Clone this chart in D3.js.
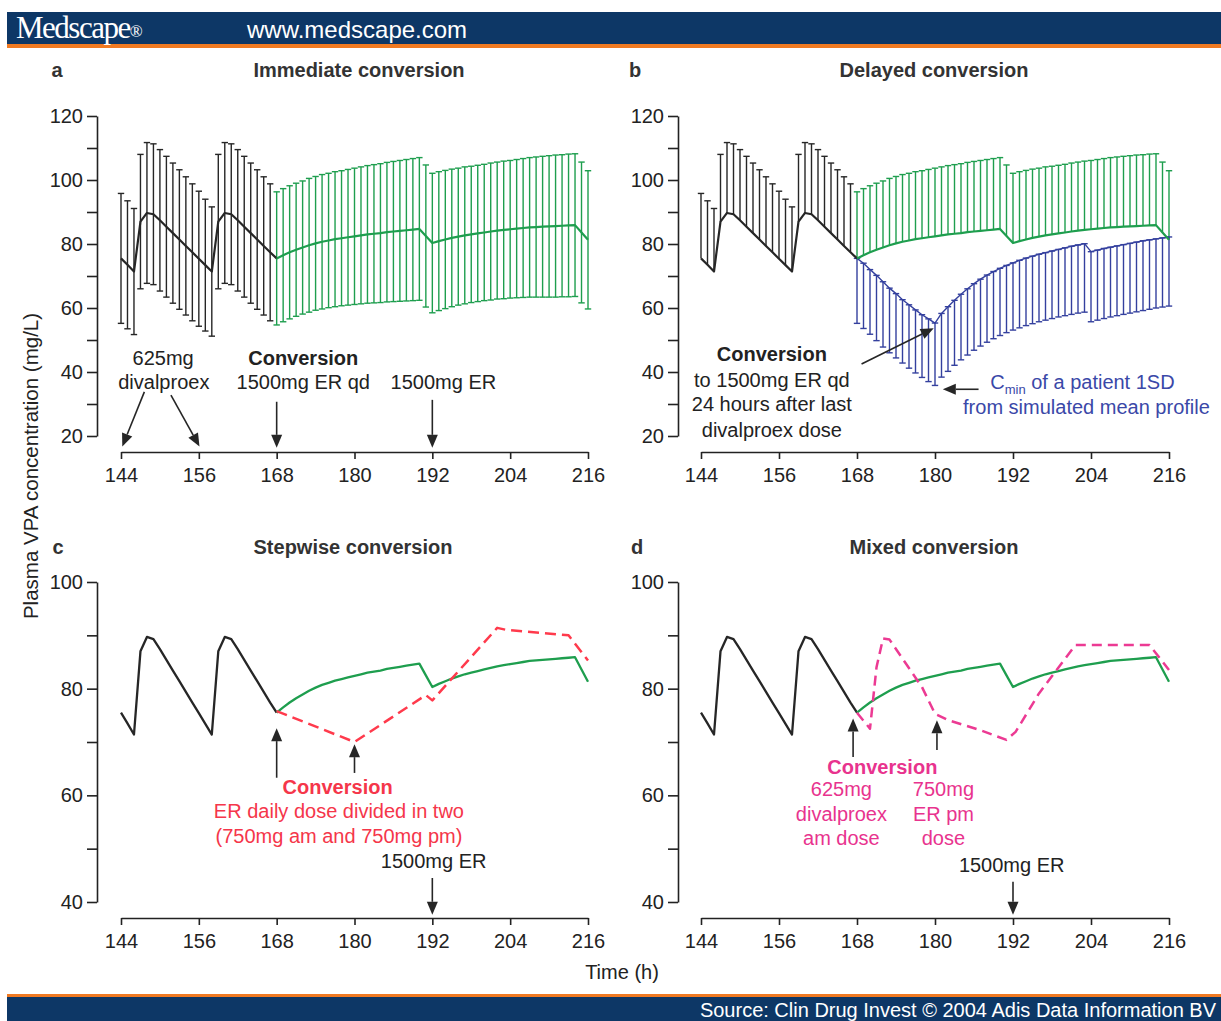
<!DOCTYPE html>
<html><head><meta charset="utf-8">
<script src="https://cdn.jsdelivr.net/npm/d3@7"></script>
<style>
html,body{margin:0;padding:0;background:#fff;}
svg{display:block;}
text{font-family:"Liberation Sans",Arial,sans-serif;}
</style></head>
<body>
<svg id="chart" width="1221" height="1021"></svg>
<script>
// ---------------- DATA ----------------
const hoursDivalproex = [144,145,146,147,148,149,150,151,152,153,154,155,156,157,158,159,160,161,162,163,164,165,166,167,168];
const meanDivalproex = [75.5,73.5,71.4,87.0,89.7,89.3,87.4,85.4,83.4,81.4,79.4,77.4,75.4,73.4,71.4,87.0,89.7,89.3,87.4,85.4,83.4,81.4,79.4,77.4,75.5];
const sdDivalproex = [20.3,20.0,19.7,21.0,22.0,22.0,22.1,22.0,21.9,21.8,21.6,21.4,21.1,20.6,20.2,21.0,22.0,22.0,22.1,22.0,21.9,21.8,21.6,21.4,21.1];

const hoursER = [168,169,170,171,172,173,174,175,176,177,178,179,180,181,182,183,184,185,186,187,188,189,190,191,192,193,194,195,196,197,198,199,200,201,202,203,204,205,206,207,208,209,210,211,212,213,214,215,216];
const meanER = [75.5,76.5,77.4,78.2,78.9,79.6,80.2,80.7,81.1,81.5,81.8,82.1,82.4,82.7,83.0,83.2,83.4,83.7,83.9,84.1,84.3,84.5,84.7,82.5,80.3,80.9,81.4,81.9,82.3,82.7,83.0,83.3,83.6,83.9,84.2,84.4,84.6,84.8,85.0,85.2,85.3,85.4,85.5,85.6,85.7,85.8,85.9,83.6,81.3];
const sdER = [20.8,20.8,20.8,20.8,20.8,20.9,20.9,21.0,21.0,21.1,21.1,21.2,21.3,21.4,21.5,21.6,21.7,21.8,21.9,22.0,22.1,22.2,22.3,22.2,21.8,21.7,21.6,21.5,21.4,21.4,21.3,21.3,21.3,21.4,21.4,21.5,21.5,21.6,21.7,21.8,21.9,22.0,22.1,22.2,22.2,22.3,22.3,22.0,21.6];

// delayed conversion (panel b): simulated mean after delayed switch, and Cmin of a patient 1SD below
const meanDelayed = [75.5,74.0,72.0,70.2,68.2,66.2,64.5,62.6,61.0,59.4,57.9,56.6,55.3,58.3,60.4,62.4,64.3,66.0,67.6,69.0,70.3,71.4,72.4,73.3,74.1,74.9,75.6,76.2,76.8,77.3,77.8,78.3,78.8,79.3,79.7,80.1,77.6,78.1,78.6,79.0,79.4,79.8,80.2,80.6,81.0,81.3,81.6,81.9,82.2];
const lowDelayed = [55.2,53.6,51.8,49.8,47.8,46.0,44.4,42.8,41.2,39.7,38.3,37.0,35.8,38.4,40.2,42.1,43.8,45.3,46.8,48.1,49.3,50.4,51.4,52.3,53.1,53.8,54.5,55.1,55.7,56.2,56.7,57.2,57.6,58.0,58.4,58.7,55.7,56.2,56.7,57.2,57.6,58.0,58.4,58.8,59.2,59.6,60.0,60.3,60.6];

// stepwise conversion (panel c, red dashed)
const stepwiseHours = [168,180,191,192,202,203.5,213,216];
const stepwiseValues = [75.8,70.0,78.8,77.8,91.4,91.0,90.0,85.3];

// mixed conversion (panel d, pink dashed)
const mixedHours = [168,170,171,172,173,178,180,182,187,191,192.4,196,201.6,213,216];
const mixedValues = [75.5,72.5,84.0,89.4,89.2,80.3,75.3,74.1,72.2,70.4,71.9,79.1,88.2,88.2,83.5];

const xTicks = [144,156,168,180,192,204,216];
const yTicksTop = [20,40,60,80,100,120];
const yMinorTop = [30,50,70,90,110];
const yTicksBottom = [40,60,80,100];
const yMinorBottom = [50,70,90];

// ---------------- STYLE ----------------
const C = {
  black:"#262626", green:"#1e9e4e", blue:"#34409e", red:"#ff3a4c", pink:"#ec3a93",
  redText:"#f5364a", pinkText:"#e8338e", blueText:"#3a48a8", axis:"#222",
  navy:"#0d3766", orange:"#f07a22", text:"#222", title:"#333"
};
const FS = 20;

const svg = d3.select("#chart");

// header & footer
svg.append("rect").attr("x",7).attr("y",12).attr("width",1214).attr("height",33).attr("fill",C.navy);
svg.append("rect").attr("x",7).attr("y",44).attr("width",1214).attr("height",4).attr("fill",C.orange);
const ms = svg.append("text").attr("x",16).attr("y",38).attr("fill","#fff")
  .style("font-family","'Liberation Serif','Times New Roman',serif").style("font-size","31px").attr("letter-spacing","-1.5");
ms.append("tspan").text("Medscape");
ms.append("tspan").text("®").style("font-size","17px").attr("dy","-1").attr("letter-spacing","0");
svg.append("text").attr("x",247).attr("y",38).attr("fill","#fff").style("font-size","24px").text("www.medscape.com");

svg.append("rect").attr("x",7).attr("y",994).attr("width",1214).attr("height",4).attr("fill",C.orange);
svg.append("rect").attr("x",7).attr("y",997).attr("width",1214).attr("height",24).attr("fill",C.navy);
svg.append("text").attr("x",1216).attr("y",1017).attr("text-anchor","end").attr("fill","#fff").style("font-size","20px")
  .text("Source: Clin Drug Invest © 2004 Adis Data Information BV");

// axis titles
svg.append("text").attr("transform","translate(31,466) rotate(-90)").attr("text-anchor","middle").attr("dy","0.35em")
  .attr("fill",C.text).style("font-size","20.5px").text("Plasma VPA concentration (mg/L)");
svg.append("text").attr("x",622).attr("y",972).attr("text-anchor","middle").attr("dy","0.35em")
  .attr("fill",C.text).style("font-size","20px").text("Time (h)");

// ---------------- PANELS ----------------
const panelCfg = [
  {letter:"a", title:"Immediate conversion", xr:[121,588], yr:[436,116], dom:[20,120], ax:97, ay:452, lx:57, tx:359, ty:70, ticks:yTicksTop, minor:yMinorTop},
  {letter:"b", title:"Delayed conversion",   xr:[701,1169], yr:[436,116], dom:[20,120], ax:678, ay:452, lx:635, tx:934, ty:70, ticks:yTicksTop, minor:yMinorTop},
  {letter:"c", title:"Stepwise conversion",  xr:[121,588], yr:[902,582], dom:[40,100], ax:97, ay:918, lx:58, tx:353, ty:547, ticks:yTicksBottom, minor:yMinorBottom},
  {letter:"d", title:"Mixed conversion",     xr:[701,1169], yr:[902,582], dom:[40,100], ax:678, ay:918, lx:637, tx:934, ty:547, ticks:yTicksBottom, minor:yMinorBottom}
];

function makePanel(cfg){
  const x = d3.scaleLinear().domain([144,216]).range(cfg.xr);
  const y = d3.scaleLinear().domain(cfg.dom).range(cfg.yr);
  const g = svg.append("g");
  g.append("text").attr("x",cfg.lx).attr("y",cfg.ty).attr("dy","0.35em").attr("text-anchor","middle")
    .attr("fill",C.title).style("font-size","20px").style("font-weight","bold").text(cfg.letter);
  g.append("text").attr("x",cfg.tx).attr("y",cfg.ty).attr("dy","0.35em").attr("text-anchor","middle")
    .attr("fill",C.title).style("font-size","20px").style("font-weight","bold").text(cfg.title);
  // y axis
  const yAxis = d3.axisLeft(y).tickValues(cfg.ticks).tickSize(10).tickPadding(4).tickSizeOuter(0);
  const ya = g.append("g").attr("transform",`translate(${cfg.ax},0)`).call(yAxis);
  const yMin = d3.axisLeft(y).tickValues(cfg.minor).tickSize(10).tickFormat("").tickSizeOuter(0);
  const ym = g.append("g").attr("transform",`translate(${cfg.ax},0)`).call(yMin);
  ym.select(".domain").remove();
  // x axis
  const xAxis = d3.axisBottom(x).tickValues(xTicks).tickSize(7).tickPadding(9).tickSizeOuter(0);
  const xa = g.append("g").attr("transform",`translate(0,${cfg.ay})`).call(xAxis);
  [ya,ym,xa].forEach(a=>{
    a.selectAll("path,line").attr("stroke",C.axis).attr("stroke-width",1.6);
    a.selectAll("text").attr("fill",C.text).style("font-size",FS+"px").style("font-family","'Liberation Sans',Arial,sans-serif");
  });
  return {x,y,g};
}

const P = panelCfg.map(makePanel);

const line = (x,y)=>d3.line().x(d=>x(d[0])).y(d=>y(d[1]));
const zip = (a,b)=>a.map((v,i)=>[v,b[i]]);
const capW = 3.2;

function bars(g,x,y,hours,top,low,color,capTop,capLow){
  const bg = g.append("g").attr("stroke",color).attr("stroke-width",1.4).attr("fill","none");
  hours.forEach((h,i)=>{
    const xx = x(h);
    bg.append("line").attr("x1",xx).attr("x2",xx).attr("y1",y(top[i])).attr("y2",y(low[i]));
    if(capTop) bg.append("line").attr("x1",xx-capW).attr("x2",xx+capW).attr("y1",y(top[i])).attr("y2",y(top[i]));
    if(capLow) bg.append("line").attr("x1",xx-capW).attr("x2",xx+capW).attr("y1",y(low[i])).attr("y2",y(low[i]));
  });
}
function meanLine(g,x,y,hours,vals,color,w,dash){
  const p = g.append("path").datum(zip(hours,vals)).attr("d",line(x,y)).attr("fill","none")
    .attr("stroke",color).attr("stroke-width",w).attr("stroke-linejoin","round");
  if(dash) p.attr("stroke-dasharray",dash);
}
function arrow(g,x,y,t1,v1,t2,v2,color){
  const x1=x(t1),y1=y(v1),x2=x(t2),y2=y(v2);
  const ang=Math.atan2(y2-y1,x2-x1), L=13, W=5.5;
  const bx=x2-L*Math.cos(ang), by=y2-L*Math.sin(ang);
  g.append("line").attr("x1",x1).attr("y1",y1).attr("x2",bx).attr("y2",by).attr("stroke",color).attr("stroke-width",1.6);
  const px=-Math.sin(ang)*W, py=Math.cos(ang)*W;
  g.append("path").attr("d",`M${x2},${y2}L${bx+px},${by+py}L${bx-px},${by-py}Z`).attr("fill",color);
}
function label(g,x,y,t,v,txt,color,opts={}){
  const el = g.append("text").attr("x",x(t)).attr("y",y(v)).attr("dy","0.35em")
    .attr("text-anchor",opts.anchor||"middle").attr("fill",color).style("font-size",(opts.size||FS)+"px");
  if(opts.bold) el.style("font-weight","bold");
  el.text(txt);
  return el;
}

const hBlackBars = hoursDivalproex.slice(0,24);
const mBlackBars = meanDivalproex.slice(0,24);
const sBlackBars = sdDivalproex.slice(0,24);

// ----- panel a -----
{
  const {x,y,g}=P[0];
  bars(g,x,y,hBlackBars,mBlackBars.map((m,i)=>m+sBlackBars[i]),mBlackBars.map((m,i)=>m-sBlackBars[i]),C.black,true,true);
  bars(g,x,y,hoursER,meanER.map((m,i)=>m+sdER[i]),meanER.map((m,i)=>m-sdER[i]),C.green,true,true);
  meanLine(g,x,y,hoursDivalproex,meanDivalproex,C.black,2.2);
  meanLine(g,x,y,hoursER,meanER,C.green,2.2);
  label(g,x,y,150.5,44.4,"625mg",C.text);
  label(g,x,y,150.6,36.9,"divalproex",C.text);
  label(g,x,y,172.1,44.4,"Conversion",C.text,{bold:true});
  label(g,x,y,172.1,36.9,"1500mg ER qd",C.text);
  label(g,x,y,193.7,36.9,"1500mg ER",C.text);
  arrow(g,x,y,147.6,33.8,144.2,16.7,C.black);
  arrow(g,x,y,151.7,32.8,156.1,16.7,C.black);
  arrow(g,x,y,168,30.7,168,16.3,C.black);
  arrow(g,x,y,192,31.3,192,16.3,C.black);
}
// ----- panel b -----
{
  const {x,y,g}=P[1];
  bars(g,x,y,hBlackBars,mBlackBars.map((m,i)=>m+sBlackBars[i]),mBlackBars,C.black,true,false);
  bars(g,x,y,hoursER,meanER.map((m,i)=>m+sdER[i]),meanER,C.green,true,false);
  bars(g,x,y,hoursER,meanDelayed,lowDelayed,C.blue,true,true);
  meanLine(g,x,y,hoursER,meanDelayed,C.blue,1.4);
  meanLine(g,x,y,hoursDivalproex,meanDivalproex,C.black,2.2);
  meanLine(g,x,y,hoursER,meanER,C.green,2.2);
  label(g,x,y,154.9,45.6,"Conversion",C.text,{bold:true});
  label(g,x,y,154.9,37.5,"to 1500mg ER qd",C.text);
  label(g,x,y,154.9,30.0,"24 hours after last",C.text);
  label(g,x,y,154.9,21.9,"divalproex dose",C.text);
  arrow(g,x,y,168.7,42.5,179.8,53.7,C.black);
  arrow(g,x,y,186.7,34.6,181.2,34.6,C.black);
  const t = label(g,x,y,188.5,36.9,"",C.blueText,{anchor:"start"});
  t.append("tspan").text("C");
  t.append("tspan").text("min").style("font-size","13px").attr("dy","5");
  t.append("tspan").text(" of a patient 1SD").attr("dy","-5");
  label(g,x,y,203.3,29.1,"from simulated mean profile",C.blueText);
}
// ----- panel c -----
{
  const {x,y,g}=P[2];
  meanLine(g,x,y,hoursDivalproex,meanDivalproex,C.black,2.3);
  meanLine(g,x,y,hoursER,meanER,C.green,2.3);
  meanLine(g,x,y,stepwiseHours,stepwiseValues,C.red,2.5,"11,6");
  arrow(g,x,y,168,63.3,168,72.6,C.black);
  arrow(g,x,y,180,64.2,180,69.6,C.black);
  label(g,x,y,177.4,61.6,"Conversion",C.redText,{bold:true});
  label(g,x,y,177.6,57.1,"ER daily dose divided in two",C.redText);
  label(g,x,y,177.6,52.4,"(750mg am and 750mg pm)",C.redText);
  label(g,x,y,192.2,47.7,"1500mg ER",C.text);
  arrow(g,x,y,192,44.5,192,37.6,C.black);
}
// ----- panel d -----
{
  const {x,y,g}=P[3];
  meanLine(g,x,y,hoursDivalproex,meanDivalproex,C.black,2.3);
  meanLine(g,x,y,hoursER,meanER,C.green,2.3);
  meanLine(g,x,y,mixedHours,mixedValues,C.pink,2.5,"10,6");
  arrow(g,x,y,167.4,67.2,167.4,74.4,C.black);
  arrow(g,x,y,180.3,68.5,180.3,74.1,C.black);
  label(g,x,y,171.9,65.4,"Conversion",C.pinkText,{bold:true});
  label(g,x,y,165.6,61.2,"625mg",C.pinkText);
  label(g,x,y,165.6,56.5,"divalproex",C.pinkText);
  label(g,x,y,165.6,52.0,"am dose",C.pinkText);
  label(g,x,y,181.3,61.2,"750mg",C.pinkText);
  label(g,x,y,181.3,56.5,"ER pm",C.pinkText);
  label(g,x,y,181.3,52.0,"dose",C.pinkText);
  label(g,x,y,191.8,46.9,"1500mg ER",C.text);
  arrow(g,x,y,192,43.8,192,37.6,C.black);
}
</script>
</body></html>
